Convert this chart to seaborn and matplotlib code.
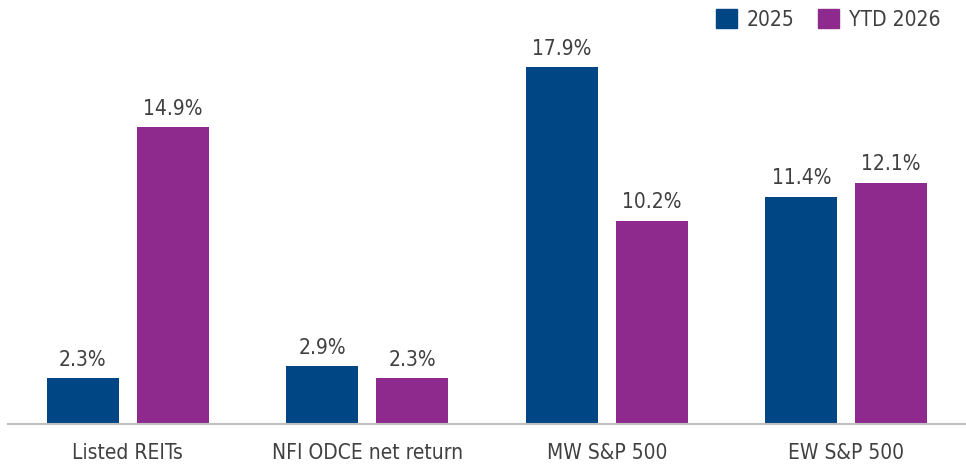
import matplotlib
matplotlib.use("Agg")
import matplotlib.pyplot as plt
import seaborn as sns
import pandas as pd
from matplotlib.patches import Patch

categories = ["Listed REITs", "NFI ODCE net return", "MW S&P 500", "EW S&P 500"]
series = ["2025", "YTD 2026"]
values_2025 = [2.3, 2.9, 17.9, 11.4]
values_ytd = [14.9, 2.3, 10.2, 12.1]
colors = ["#004684", "#8E2A8E"]

df = pd.DataFrame({
    "category": categories * 2,
    "series": [series[0]] * 4 + [series[1]] * 4,
    "value": values_2025 + values_ytd,
})

sns.set_style("white")
plt.rcParams['font.family'] = ['Liberation Sans Narrow', 'DejaVu Sans']
plt.rcParams['font.stretch'] = 'condensed'
text_color = "#404040"

fig = plt.figure(figsize=(9.66, 4.70), dpi=100)
ax = fig.add_axes([8 / 966, 46 / 470, 958 / 966, 424 / 470])

sns.barplot(data=df, x="category", y="value", hue="series", palette=colors,
            width=0.75, gap=0.2, saturation=1, linewidth=0, ax=ax, legend=False)

for cont in ax.containers:
    ax.bar_label(cont, labels=[f"{v:.1f}%" for v in cont.datavalues],
                 padding=6, fontsize=15, color=text_color)

ax.set_xlim(-0.5, 3.5)
ax.set_ylim(0, 21.26)
ax.set_xlabel("")
ax.set_ylabel("")
ax.set_yticks([])
ax.tick_params(axis="x", length=0, labelsize=15, colors=text_color, pad=14)
for s in ["top", "right", "left"]:
    ax.spines[s].set_visible(False)
ax.spines["bottom"].set_color("#BFBFBF")
ax.spines["bottom"].set_linewidth(1.5)

handles = [Patch(color=c, label=s) for c, s in zip(colors, series)]
fig.legend(handles=handles, loc="upper right", bbox_to_anchor=(0.993, 1.02), ncol=2,
           frameon=False, fontsize=15, handlelength=1.0, handleheight=1.0,
           handletextpad=0.5, columnspacing=1.1, labelcolor=text_color)

fig.savefig("out.png", dpi=100)
